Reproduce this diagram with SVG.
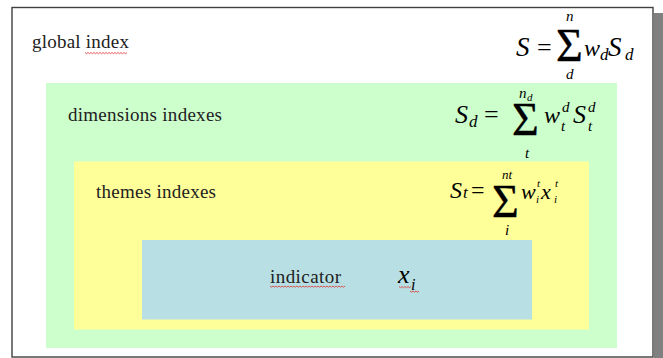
<svg xmlns="http://www.w3.org/2000/svg" width="663" height="358" viewBox="0 0 663 358">
<style>
.lbl{font-family:"Liberation Serif",serif;font-size:19px;fill:#222}
.m{font-family:"Liberation Serif",serif;font-style:italic;fill:#000}
.r{font-family:"Liberation Serif",serif;fill:#000}
.sg{font-family:"Liberation Serif",serif;fill:#000;stroke:#000;stroke-width:0.4}
.sq{fill:none;stroke:#e03030;stroke-width:0.8}
</style>
<rect width="663" height="358" fill="#ffffff"/>
<rect x="654" y="13" width="9" height="345" fill="#808080"/>
<rect x="12" y="7.5" width="641" height="349.5" fill="#ffffff" stroke="#404040" stroke-width="1.4"/>
<g id="global">
<text class="lbl" x="32" y="48" textLength="97">global index</text>
<path class="sq" d="M85 52.5 l1.5 1.2 l1.5 -1.2 l1.5 1.2 l1.5 -1.2 l1.5 1.2 l1.5 -1.2 l1.5 1.2 l1.5 -1.2 l1.5 1.2 l1.5 -1.2 l1.5 1.2 l1.5 -1.2 l1.5 1.2 l1.5 -1.2 l1.5 1.2 l1.5 -1.2 l1.5 1.2 l1.5 -1.2 l1.5 1.2 l1.5 -1.2 l1.5 1.2 l1.5 -1.2 l1.5 1.2 l1.5 -1.2 l1.5 1.2 l1.5 -1.2 l1.5 1.2 l1.5 -1.2"/>
<text class="m" x="516" y="56" font-size="27">S</text>
<text class="r" x="537" y="56" font-size="26">=</text>
<text class="sg" x="556" y="61" font-size="46">Σ</text>
<text class="m" x="566" y="21" font-size="15">n</text>
<text class="m" x="566" y="79" font-size="15">d</text>
<text class="m" x="584" y="56" font-size="24">w</text>
<text class="m" x="600" y="60" font-size="17">d</text>
<text class="m" x="608" y="56" font-size="27">S</text>
<text class="m" x="625" y="60" font-size="17">d</text>
</g>
<g id="dimensions">
<rect x="46" y="83" width="571" height="265" fill="#ccffcc"/>
<text class="lbl" x="68" y="121" textLength="154">dimensions indexes</text>
<text class="m" x="455" y="123" font-size="26">S</text>
<text class="m" x="469" y="127" font-size="17">d</text>
<text class="r" x="484" y="123" font-size="26">=</text>
<text class="sg" x="512" y="135" font-size="46">Σ</text>
<text class="m" x="519" y="98" font-size="15">n</text>
<text class="m" x="527" y="101" font-size="11">d</text>
<text class="m" x="525" y="158" font-size="15">t</text>
<text class="m" x="544" y="123" font-size="24">w</text>
<text class="m" x="561" y="131" font-size="15">t</text>
<text class="m" x="562" y="112" font-size="15">d</text>
<text class="m" x="573" y="123" font-size="26">S</text>
<text class="m" x="588" y="131" font-size="15">t</text>
<text class="m" x="588" y="112" font-size="15">d</text>
</g>
<g id="themes">
<rect x="74" y="161.5" width="515" height="168" fill="#ffff99"/>
<text class="lbl" x="96" y="198" textLength="120">themes indexes</text>
<text class="m" x="450" y="198" font-size="24">S</text>
<text class="m" x="463" y="198" font-size="17">t</text>
<text class="r" x="471" y="198" font-size="24">=</text>
<text class="sg" x="492" y="217" font-size="46">Σ</text>
<text class="m" x="502" y="179" font-size="13">nt</text>
<text class="m" x="505" y="235" font-size="15">i</text>
<text class="m" x="521" y="199" font-size="22">w</text>
<text class="m" x="537" y="187" font-size="11">t</text>
<text class="m" x="536" y="203" font-size="11">i</text>
<text class="m" x="541" y="199" font-size="22">x</text>
<text class="m" x="555" y="187" font-size="11">t</text>
<text class="m" x="554" y="203" font-size="11">i</text>
</g>
<g id="indicator">
<rect x="142" y="240" width="390" height="79.5" fill="#b8dfe3"/>
<text class="lbl" x="270" y="283" textLength="71">indicator</text>
<path class="sq" d="M270 286 l1.5 1.2 l1.5 -1.2 l1.5 1.2 l1.5 -1.2 l1.5 1.2 l1.5 -1.2 l1.5 1.2 l1.5 -1.2 l1.5 1.2 l1.5 -1.2 l1.5 1.2 l1.5 -1.2 l1.5 1.2 l1.5 -1.2 l1.5 1.2 l1.5 -1.2 l1.5 1.2 l1.5 -1.2 l1.5 1.2 l1.5 -1.2 l1.5 1.2 l1.5 -1.2 l1.5 1.2 l1.5 -1.2 l1.5 1.2 l1.5 -1.2 l1.5 1.2 l1.5 -1.2 l1.5 1.2 l1.5 -1.2 l1.5 1.2 l1.5 -1.2 l1.5 1.2 l1.5 -1.2 l1.5 1.2 l1.5 -1.2 l1.5 1.2 l1.5 -1.2 l1.5 1.2 l1.5 -1.2 l1.5 1.2 l1.5 -1.2 l1.5 1.2 l1.5 -1.2 l1.5 1.2 l1.5 -1.2 l1.5 1.2 l1.5 -1.2 l1.5 1.2 l1.5 -1.2"/>
<text class="m" x="398" y="283" font-size="26" fill="#222">x</text>
<text class="m" x="411" y="290" font-size="16" fill="#222">i</text>
<path class="sq" d="M399 286.5 l1.5 1.2 l1.5 -1.2 l1.5 1.2 l1.5 -1.2 l1.5 1.2 l1.5 -1.2 l1.5 1.2 l1.5 -1.2 M410 291 l1.5 1.2 l1.5 -1.2 l1.5 1.2 l1.5 -1.2 l1.5 1.2 l1.5 -1.2"/>
</g>
</svg>
